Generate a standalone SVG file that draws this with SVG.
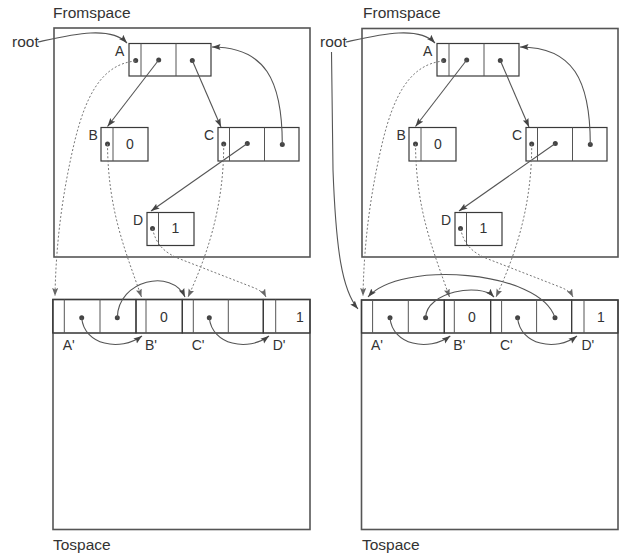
<svg xmlns="http://www.w3.org/2000/svg" width="621" height="556" viewBox="0 0 621 556">
<style>
text{font-family:"Liberation Sans",Arial,sans-serif;fill:#333}
.title{font-size:15.5px}
.lbl{font-size:14px}
.val{font-size:14px;text-anchor:middle}
.frame{fill:none;stroke:#555;stroke-width:1.6}
.box{fill:none;stroke:#3a3a3a;stroke-width:1.2}
.div{stroke:#555;stroke-width:1}
.dot{fill:#444}
.arr{fill:none;stroke:#555;stroke-width:1.1;marker-end:url(#ah)}
.fwd{fill:none;stroke:#777;stroke-width:1;stroke-dasharray:2 2;marker-end:url(#ahd)}
</style>
<defs>
<marker id="ah" markerWidth="10" markerHeight="8" refX="8.5" refY="3.5" orient="auto" markerUnits="userSpaceOnUse"><path d="M0,0.5 L8.5,3.5 L0,6.5 L1.5,3.5 z" fill="#444"/></marker>
<marker id="ahd" markerWidth="10" markerHeight="8" refX="8" refY="3" orient="auto" markerUnits="userSpaceOnUse"><path d="M0,0 L8,3 L0,6 L1.5,3 z" fill="#666"/></marker>
</defs>

<!-- LEFT PANEL -->
<g id="L-fromspace"><rect class="frame" x="54" y="28" width="256" height="229"/><text class="title" x="53" y="17.5">Fromspace</text></g>
<g id="L-tospace"><rect class="frame" x="53" y="299.5" width="257" height="230"/><line class="div" x1="53" y1="333" x2="310" y2="333"/><text class="title" x="53" y="550">Tospace</text></g>
<text class="title" x="12" y="47">root</text>

<g id="L-A"><rect class="box" x="129" y="43.5" width="82" height="32.5"/><line class="div" x1="141" y1="43.5" x2="141" y2="76"/><line class="div" x1="176" y1="43.5" x2="176" y2="76"/><circle class="dot" cx="135.7" cy="60.5" r="2.5"/><circle class="dot" cx="158.7" cy="60" r="2.5"/><circle class="dot" cx="192.3" cy="60.5" r="2.5"/><text class="lbl" x="115" y="56">A</text></g>
<g id="L-B"><rect class="box" x="101" y="127.5" width="47" height="33.5"/><line class="div" x1="113" y1="127.5" x2="113" y2="161"/><circle class="dot" cx="107.5" cy="144" r="2.5"/><text class="val" x="130" y="149">0</text><text class="lbl" x="88.5" y="139.5">B</text></g>
<g id="L-C"><rect class="box" x="218" y="127.5" width="81" height="33.5"/><line class="div" x1="229.5" y1="127.5" x2="229.5" y2="161"/><line class="div" x1="264.5" y1="127.5" x2="264.5" y2="161"/><circle class="dot" cx="223.7" cy="144" r="2.5"/><circle class="dot" cx="247.3" cy="143.5" r="2.5"/><circle class="dot" cx="282.3" cy="144.5" r="2.5"/><text class="lbl" x="204" y="139.5">C</text></g>
<g id="L-D"><rect class="box" x="147" y="212.5" width="47" height="33"/><line class="div" x1="158.5" y1="212.5" x2="158.5" y2="245.5"/><circle class="dot" cx="152.5" cy="228.5" r="2.5"/><text class="val" x="175.5" y="233">1</text><text class="lbl" x="133" y="224.5">D</text></g>

<g id="L-A2"><rect class="box" x="52.7" y="299.5" width="83.3" height="33.5"/><line class="div" x1="64.3" y1="299.5" x2="64.3" y2="333"/><line class="div" x1="100" y1="299.5" x2="100" y2="333"/><circle class="dot" cx="81.7" cy="317.7" r="2.5"/><circle class="dot" cx="117.3" cy="317.7" r="2.5"/><text class="lbl" x="62.7" y="350">A'</text></g>
<g id="L-B2"><rect class="box" x="136" y="299.5" width="46.3" height="33.5"/><line class="div" x1="146" y1="299.5" x2="146" y2="333"/><text class="val" x="164" y="322">0</text><text class="lbl" x="145" y="350">B'</text></g>
<g id="L-C2"><rect class="box" x="182.3" y="299.5" width="81" height="33.5"/><line class="div" x1="193.3" y1="299.5" x2="193.3" y2="333"/><line class="div" x1="228.3" y1="299.5" x2="228.3" y2="333"/><circle class="dot" cx="209.3" cy="317.7" r="2.5"/><text class="lbl" x="191.7" y="350">C'</text></g>
<g id="L-D2"><rect class="box" x="263.3" y="299.5" width="46.7" height="33.5"/><line class="div" x1="275.7" y1="299.5" x2="275.7" y2="333"/><text class="val" x="300" y="322">1</text><text class="lbl" x="272.7" y="350">D'</text></g>

<!-- RIGHT PANEL -->
<g id="R-fromspace"><rect class="frame" x="362" y="28.5" width="256" height="228.5"/><text class="title" x="363" y="17.5">Fromspace</text></g>
<g id="R-tospace"><rect class="frame" x="361.5" y="300" width="256.5" height="229.5"/><line class="div" x1="361.5" y1="333" x2="618" y2="333"/><text class="title" x="362" y="550">Tospace</text></g>
<text class="title" x="320" y="47">root</text>

<g id="R-A"><rect class="box" x="437" y="43.5" width="82" height="32.5"/><line class="div" x1="449" y1="43.5" x2="449" y2="76"/><line class="div" x1="484" y1="43.5" x2="484" y2="76"/><circle class="dot" cx="443.7" cy="60.5" r="2.5"/><circle class="dot" cx="466.7" cy="60" r="2.5"/><circle class="dot" cx="500.3" cy="60.5" r="2.5"/><text class="lbl" x="423" y="56">A</text></g>
<g id="R-B"><rect class="box" x="409" y="127.5" width="47" height="33.5"/><line class="div" x1="421" y1="127.5" x2="421" y2="161"/><circle class="dot" cx="415.5" cy="144" r="2.5"/><text class="val" x="438" y="149">0</text><text class="lbl" x="396.5" y="139.5">B</text></g>
<g id="R-C"><rect class="box" x="526" y="127.5" width="81" height="33.5"/><line class="div" x1="537.5" y1="127.5" x2="537.5" y2="161"/><line class="div" x1="572.5" y1="127.5" x2="572.5" y2="161"/><circle class="dot" cx="531.7" cy="144" r="2.5"/><circle class="dot" cx="555.3" cy="143.5" r="2.5"/><circle class="dot" cx="590.3" cy="144.5" r="2.5"/><text class="lbl" x="512" y="139.5">C</text></g>
<g id="R-D"><rect class="box" x="455" y="212.5" width="47" height="33"/><line class="div" x1="466.5" y1="212.5" x2="466.5" y2="245.5"/><circle class="dot" cx="460.5" cy="228.5" r="2.5"/><text class="val" x="483.5" y="233">1</text><text class="lbl" x="441" y="224.5">D</text></g>

<g id="R-A2"><rect class="box" x="361.5" y="300" width="82.8" height="33"/><line class="div" x1="372.6" y1="300" x2="372.6" y2="333"/><line class="div" x1="408.3" y1="300" x2="408.3" y2="333"/><circle class="dot" cx="390" cy="317.7" r="2.5"/><circle class="dot" cx="425.6" cy="317.7" r="2.5"/><text class="lbl" x="371" y="350">A'</text></g>
<g id="R-B2"><rect class="box" x="444.3" y="300" width="46.3" height="33"/><line class="div" x1="454.3" y1="300" x2="454.3" y2="333"/><text class="val" x="472" y="322">0</text><text class="lbl" x="453.3" y="350">B'</text></g>
<g id="R-C2"><rect class="box" x="490.6" y="300" width="81" height="33"/><line class="div" x1="501.6" y1="300" x2="501.6" y2="333"/><line class="div" x1="536.6" y1="300" x2="536.6" y2="333"/><circle class="dot" cx="517.6" cy="317.7" r="2.5"/><circle class="dot" cx="555" cy="317.7" r="2.5"/><text class="lbl" x="500" y="350">C'</text></g>
<g id="R-D2"><rect class="box" x="571.6" y="300" width="46.4" height="33"/><line class="div" x1="584" y1="300" x2="584" y2="333"/><text class="val" x="601" y="322">1</text><text class="lbl" x="581.5" y="350">D'</text></g>

<g id="connectors">
<!-- left -->
<path class="arr" d="M38,42 C70,35 110,25 127,43"/>
<path class="arr" d="M158.7,60 L107.5,126.5"/>
<path class="arr" d="M192.3,60.5 L221,127"/>
<path class="arr" d="M282.3,144.5 C282.3,80 265,47 212,47"/>
<path class="arr" d="M247.3,143.5 L151,211"/>
<path class="fwd" d="M135.7,61 C100,64 85,100 75,140 C63,190 56,240 55,296"/>
<path class="fwd" d="M107.5,144 C108,210 125,250 141.5,297"/>
<path class="fwd" d="M223.7,144 C224,210 205,260 188,297"/>
<path class="fwd" d="M152.5,228.5 C156,245 165,253 180,259 L252,287 C260,290 264,293 266,297"/>
<path class="arr" d="M81.7,317.7 C84,345 120,352 142,336"/>
<path class="arr" d="M117.3,317.7 C118,280 172,268 185,297"/>
<path class="arr" d="M209.3,317.7 C212,345 248,352 269,336"/>
<!-- right -->
<path class="arr" d="M346,42 C378,35 418,25 435,43"/>
<path class="arr" d="M331.5,52 L333,170 C336,250 342,290 358,309"/>
<path class="arr" d="M466.7,60 L415.5,126.5"/>
<path class="arr" d="M500.3,60.5 L529,127"/>
<path class="arr" d="M590.3,144.5 C590.3,80 573,47 520,47"/>
<path class="arr" d="M555.3,143.5 L459,211"/>
<path class="fwd" d="M443.7,61 C408,64 393,100 383,140 C371,190 364,240 363,296"/>
<path class="fwd" d="M415.5,144 C416,210 433,250 449.5,297"/>
<path class="fwd" d="M531.7,144 C532,210 513,260 496,297"/>
<path class="fwd" d="M460.5,228.5 C464,245 473,253 488,259 L560,287 C568,290 571,293 573,297"/>
<path class="arr" d="M390,317.7 C392.3,345 428.3,352 450.3,336"/>
<path class="arr" d="M425.6,317.7 C426,292 480,282 494,297"/>
<path class="arr" d="M517.6,317.7 C520,345 556,352 577,336"/>
<path class="arr" d="M555,317.7 C540,270 400,260 368,297"/>
</g>
</svg>
